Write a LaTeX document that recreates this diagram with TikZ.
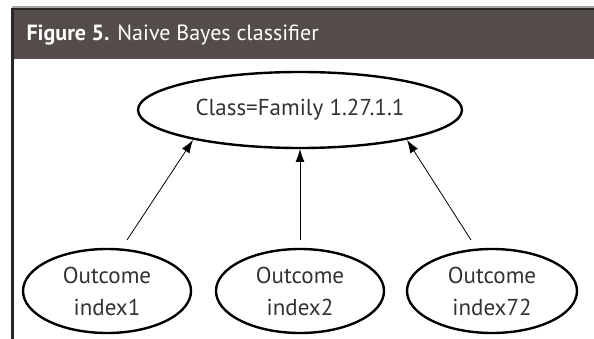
\documentclass[tikz,border=0pt]{standalone}
\usepackage{fontspec}
\setmainfont{PT Sans}
\usetikzlibrary{shapes.geometric,arrows.meta}
\definecolor{hdr}{HTML}{544C48}
\definecolor{txt}{HTML}{333333}
\definecolor{edge}{HTML}{2B2626}
\begin{document}
\begin{tikzpicture}[x=1pt,y=-1pt,
  oval/.style={ellipse,draw=black,line width=2.4pt,inner sep=0pt,text=txt,font=\fontsize{23}{32}\selectfont,align=center},
  link/.style={draw=black,line width=0.8pt,-{Latex[length=13pt,width=9pt]}}]
\useasboundingbox (0,0) rectangle (594,339);
\fill[white] (0,0) rectangle (594,339);
% frame
\draw[gray!70,line width=1.2pt] (12,7) -- (594,7);
\fill[hdr] (12,8.5) rectangle (594,59);
\fill[edge] (12,8.5) rectangle (594,10.5);
\fill[edge] (11,8.5) rectangle (13.5,339);
\node[anchor=west,text=white,font=\fontsize{22}{26}\selectfont] (title) at (23,35) {\textbf{Figure 5.} Naive Bayes classifier};
% nodes
\node[oval,minimum width=324pt,minimum height=76pt] (cls) at (300,110) {Class=Family 1.27.1.1};
\node[oval,minimum width=168pt,minimum height=84pt] (o1) at (107,291) {Outcome\\index1};
\node[oval,minimum width=168pt,minimum height=84pt] (o2) at (300,291) {Outcome\\index2};
\node[oval,minimum width=170pt,minimum height=84pt] (o3) at (492,291) {Outcome\\index72};
\coordinate (s1) at (127,240);
\coordinate (s2) at (300,240);
\coordinate (s3) at (471,240);
\coordinate (e1) at (193,140);
\coordinate (e2) at (300,149);
\coordinate (e3) at (407,140);
\draw[link] (s1) -- (e1);
\draw[link] (s2) -- (e2);
\draw[link] (s3) -- (e3);
\end{tikzpicture}
\end{document}
